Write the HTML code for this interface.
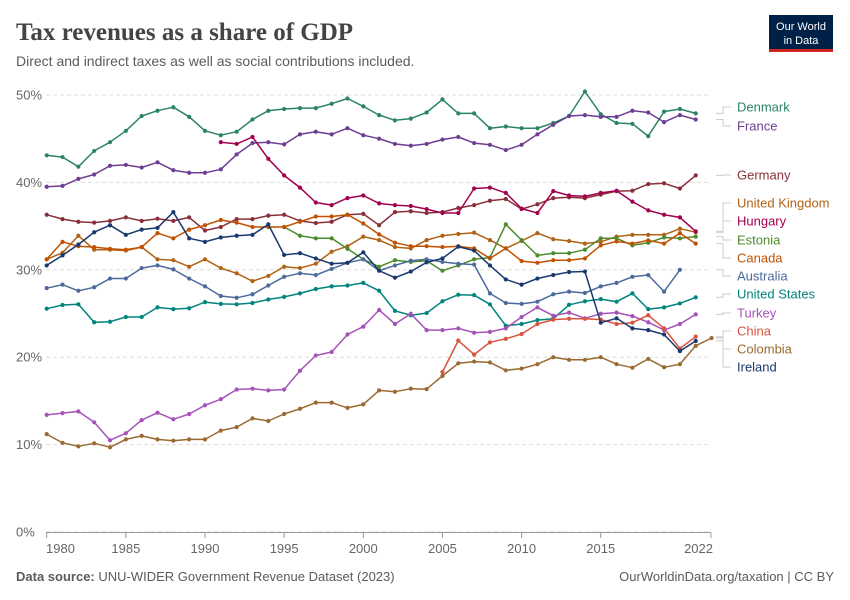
<!DOCTYPE html>
<html><head><meta charset="utf-8">
<style>
body{margin:0;background:#fff;width:850px;height:600px;overflow:hidden;font-family:"Liberation Sans",sans-serif;}
svg{display:block}
</style></head>
<body>
<svg id="chart" width="850" height="600" xmlns="http://www.w3.org/2000/svg">
  <text x="16" y="40" font-family="Liberation Serif, serif" font-size="25" font-weight="bold" fill="#444">Tax revenues as a share of GDP</text>
  <text x="16" y="66" font-size="14" fill="#5b5b5b">Direct and indirect taxes as well as social contributions included.</text>
  <g>
    <rect x="769" y="15" width="64" height="37" fill="#002147"/>
    <rect x="769" y="49" width="64" height="3" fill="#ce261e"/>
    <text x="801" y="30" font-size="11" fill="#fff" text-anchor="middle">Our World</text>
    <text x="801" y="44" font-size="11" fill="#fff" text-anchor="middle">in Data</text>
  </g>
  <g id="grid"></g>
  <g id="series"></g>
  <g id="legend"></g>
  <text x="16" y="581" font-size="13" fill="#5b5b5b"><tspan font-weight="bold">Data source:</tspan> UNU-WIDER Government Revenue Dataset (2023)</text>
  <text x="834" y="581" font-size="13" fill="#5b5b5b" text-anchor="end">OurWorldinData.org/taxation | CC BY</text>
</svg>
<script>
const years = [];for(let y=1980;y<=2022;y++)years.push(y);
const yTicks = [0,10,20,30,40,50];
const xTicks = [1980,1985,1990,1995,2000,2005,2010,2015,2022];
const denmark = [43.1,42.9,41.8,43.6,44.6,45.9,47.6,48.2,48.6,47.5,45.9,45.4,45.8,47.2,48.2,48.4,48.5,48.5,49.0,49.6,48.7,47.7,47.1,47.3,48.0,49.5,47.9,47.9,46.2,46.4,46.2,46.2,46.8,47.6,50.4,47.8,46.8,46.7,45.3,48.1,48.4,47.9,null];
const france = [39.5,39.6,40.4,40.9,41.9,42.0,41.7,42.3,41.4,41.1,41.1,41.5,43.2,44.5,44.6,44.35,45.5,45.8,45.5,46.2,45.4,45.0,44.4,44.2,44.4,44.9,45.2,44.5,44.3,43.7,44.3,45.5,46.6,47.6,47.7,47.5,47.5,48.2,48.0,46.9,47.7,47.2,null];
const germany = [36.3,35.8,35.5,35.4,35.6,36.0,35.6,35.85,35.6,36.0,34.5,34.9,35.8,35.8,36.2,36.3,35.6,35.35,35.5,36.3,36.4,35.1,36.6,36.7,36.5,36.6,37.07,37.4,37.9,38.1,36.95,37.5,38.2,38.3,38.2,38.6,39.0,39.05,39.8,39.9,39.3,40.8,null];
const hungary = [null,null,null,null,null,null,null,null,null,null,null,44.6,44.4,45.2,42.7,40.8,39.4,37.7,37.4,38.2,38.5,37.6,37.4,37.3,36.95,36.5,36.5,39.3,39.4,38.8,37.0,36.5,39.0,38.5,38.4,38.8,39.05,37.8,36.8,36.3,36.0,34.4,null];
const uk = [31.2,31.96,33.9,32.3,32.3,32.2,32.6,31.2,31.1,30.35,31.2,30.2,29.6,28.7,29.3,30.35,30.2,30.7,32.07,32.7,33.8,33.4,32.6,32.45,33.4,33.9,34.1,34.25,33.4,32.45,33.3,34.2,33.5,33.3,33.0,33.2,33.8,34.0,34.0,34.0,34.7,34.3,null];
const canada = [31.2,33.2,32.7,32.6,32.4,32.3,32.6,34.2,33.6,34.6,35.1,35.7,35.4,34.9,34.9,34.9,35.5,36.1,36.1,36.3,35.3,34.05,33.1,32.7,32.7,32.6,32.7,32.45,31.3,32.45,31.0,30.8,31.1,31.1,31.3,32.8,33.25,33.0,33.37,33.0,34.2,33.0,null];
const estonia = [null,null,null,null,null,null,null,null,null,null,null,null,null,null,null,34.9,33.9,33.6,33.6,32.4,31.2,30.35,31.1,30.9,31.04,29.9,30.5,31.2,31.4,35.2,33.4,31.65,31.9,31.9,32.3,33.6,33.6,32.8,33.1,33.7,33.6,33.8,null];
const australia = [27.9,28.3,27.6,28.0,29.0,29.0,30.2,30.5,30.05,29.0,28.1,27.0,26.8,27.2,28.2,29.2,29.6,29.4,30.1,30.8,31.2,29.9,30.5,31.04,31.2,30.9,30.7,30.6,27.3,26.2,26.1,26.35,27.2,27.5,27.35,28.1,28.5,29.2,29.4,27.5,30.0,null,null];
const usa = [25.55,25.97,26.05,24.0,24.06,24.6,24.6,25.7,25.5,25.6,26.3,26.1,26.05,26.2,26.6,26.9,27.3,27.8,28.1,28.2,28.5,27.6,25.3,24.8,25.05,26.4,27.15,27.1,26.05,23.6,23.8,24.25,24.4,26.0,26.4,26.65,26.35,27.3,25.5,25.7,26.15,26.85,null];
const turkey = [13.4,13.6,13.8,12.55,10.5,11.3,12.8,13.65,12.9,13.5,14.5,15.2,16.3,16.4,16.2,16.3,18.45,20.2,20.6,22.6,23.5,25.4,23.8,24.97,23.1,23.1,23.3,22.8,22.9,23.3,24.6,25.7,24.75,25.1,24.45,24.97,25.1,24.7,24.0,23.1,23.8,24.9,null];
const china = [null,null,null,null,null,null,null,null,null,null,null,null,null,null,null,null,null,null,null,null,null,null,null,null,null,18.3,21.9,20.3,21.7,22.1,22.65,23.8,24.3,24.4,24.4,24.3,23.8,23.95,24.8,23.3,21.0,22.35,null];
const colombia = [11.2,10.2,9.8,10.15,9.7,10.6,11.0,10.6,10.45,10.6,10.6,11.6,12.0,13.0,12.7,13.5,14.1,14.8,14.8,14.2,14.6,16.2,16.05,16.4,16.35,17.85,19.3,19.5,19.4,18.5,18.7,19.2,20.0,19.7,19.7,20.0,19.2,18.8,19.8,18.85,19.2,21.3,22.2];
const ireland = [30.5,31.65,32.9,34.3,35.1,34.0,34.6,34.8,36.6,33.6,33.2,33.7,33.9,34.0,35.2,31.7,31.9,31.3,30.7,30.8,32.0,29.9,29.1,29.8,30.85,31.3,32.65,32.2,30.5,28.9,28.3,29.0,29.4,29.75,29.8,23.95,24.45,23.3,23.1,22.6,20.7,21.85,null];

const seriesList = [
 {name:'Denmark',data:denmark,color:'#2c8465',ly:107},
 {name:'France',data:france,color:'#6d3e91',ly:126},
 {name:'Germany',data:germany,color:'#883039',ly:175},
 {name:'United Kingdom',data:uk,color:'#b16214',ly:203},
 {name:'Hungary',data:hungary,color:'#a2004f',ly:221},
 {name:'Estonia',data:estonia,color:'#4c8c2b',ly:240},
 {name:'Canada',data:canada,color:'#c15100',ly:258},
 {name:'Australia',data:australia,color:'#4c6a9c',ly:276},
 {name:'United States',data:usa,color:'#00847e',ly:294},
 {name:'Turkey',data:turkey,color:'#a652ba',ly:313},
 {name:'China',data:china,color:'#d9533f',ly:331},
 {name:'Colombia',data:colombia,color:'#9a6a31',ly:349},
 {name:'Ireland',data:ireland,color:'#18386e',ly:367}
];
const X0=46.7, XS=15.83, Y0=532, YS=8.74;
function x(yr){return X0+(yr-1980)*XS;}
function y(v){return Y0-v*YS;}
const NS='http://www.w3.org/2000/svg';
function mk(tag,attrs,parent){const e=document.createElementNS(NS,tag);for(const k in attrs)e.setAttribute(k,attrs[k]);parent.appendChild(e);return e;}
const grid=document.getElementById('grid');
yTicks.forEach(t=>{
  const l=mk('line',{x1:46,x2:711,y1:y(t),y2:y(t),stroke:'#ddd','stroke-dasharray':'4,3'},grid);
  
  
  const tx=mk('text',{x:16,y:y(t)+4.5,'font-size':13,fill:'#666'},grid);
  tx.textContent=t+'%';
  
  
});
const ax=mk('line',{x1:46,x2:711,y1:532.5,y2:532.5,stroke:'#999'},grid);


xTicks.forEach((t,i)=>{
  const px=Math.min(x(t),711);
  mk('line',{x1:px,x2:px,y1:533,y2:538,stroke:'#999'},grid);
  const anchor=i===0?'start':(i===xTicks.length-1?'end':'middle');
  const tx=mk('text',{x:i===0?46:(i===xTicks.length-1?713:px),y:553,'font-size':13,fill:'#666','text-anchor':anchor},grid);
  tx.textContent=t;
  
  
});
const sg=document.getElementById('series');
const lg=document.getElementById('legend');
seriesList.forEach(s=>{
  const g=mk('g',{},sg);
  
  
  let d='',pen=false,last=null;
  s.data.forEach((v,i)=>{
    if(v===null){pen=false;return;}
    d+=(pen?'L':'M')+x(years[i]).toFixed(1)+','+y(v).toFixed(1);
    pen=true;last=[x(years[i]),y(v)];
  });
  mk('path',{d:d,fill:'none',stroke:s.color,'stroke-width':1.5,'stroke-linejoin':'round'},g);
  s.data.forEach((v,i)=>{
    if(v===null)return;
    const c=mk('circle',{cx:x(years[i]),cy:y(v),r:2.1,fill:s.color},g);
    
    
  });
  const ey=last[1];
  mk('path',{d:`M716,${ey.toFixed(1)}H723V${s.ly}H731`,fill:'none',stroke:'#ccc','stroke-width':1},lg);
  const t=mk('text',{x:737,y:s.ly+4.5,'font-size':13,fill:s.color},lg);
  t.textContent=s.name;
  
  
});
</script>
</body></html>
